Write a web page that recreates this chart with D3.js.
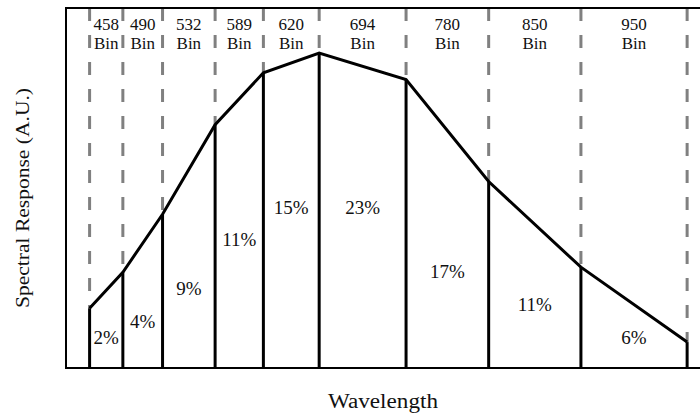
<!DOCTYPE html>
<html>
<head>
<meta charset="utf-8">
<script src="https://cdn.jsdelivr.net/npm/d3@7"></script>
<style>
  body { margin: 0; background: #fff; }
  svg { display: block; }
</style>
</head>
<body>
<svg id="drawing_region"></svg>
<script>
// bin boundaries (nm, estimated) and response at each boundary (A.U., 0-100)
const boundaries = [443, 474, 511, 560, 605, 657, 738, 815, 901, 1000];
const response = [16.6, 26.6, 42.7, 67.6, 82.0, 87.5, 80.1, 51.8, 28.0, 7.2];
const bins = ['458', '490', '532', '589', '620', '694', '780', '850', '950'];
const shares = ['2%', '4%', '9%', '11%', '15%', '23%', '17%', '11%', '6%'];
const shareLevel = [8.6, 13.0, 22.2, 35.7, 44.6, 44.6, 26.9, 17.7, 8.6];

const config = {
    width: 700,
    height: 413,
    margin: { top: 8, right: 0, bottom: 45, left: 66 },
    font: "'Liberation Serif'"
};

const svg = d3.select('#drawing_region')
    .attr('width', config.width)
    .attr('height', config.height);

const x = d3.scaleLinear()
    .domain([421, 1012])
    .range([config.margin.left, config.width - config.margin.right]);

const y = d3.scaleLinear()
    .domain([0, 100])
    .range([config.height - config.margin.bottom, config.margin.top]);

const yTop = y(100), yBottom = y(0);

// dashed gray lines from top to the curve
svg.selectAll('.dash')
    .data(boundaries)
    .enter()
    .append('line')
    .attr('x1', d => x(d))
    .attr('x2', d => x(d))
    .attr('y1', yTop)
    .attr('y2', (d, i) => y(response[i]))
    .attr('stroke', '#808080')
    .attr('stroke-width', 3)
    .attr('stroke-dasharray', '13,14');

// solid black lines from curve to bottom
svg.selectAll('.solid')
    .data(boundaries)
    .enter()
    .append('line')
    .attr('x1', d => x(d))
    .attr('x2', d => x(d))
    .attr('y1', (d, i) => y(response[i]))
    .attr('y2', yBottom)
    .attr('stroke', '#000')
    .attr('stroke-width', 3);

// response curve
const line = d3.line()
    .x((d, i) => x(boundaries[i]))
    .y(d => y(d));

svg.append('path')
    .datum(response)
    .attr('d', line)
    .attr('fill', 'none')
    .attr('stroke', '#000')
    .attr('stroke-width', 3)
    .attr('stroke-linejoin', 'miter');

// frame: left, top, bottom
svg.append('path')
    .attr('d', `M${config.width},${yTop}H${x.range()[0]}V${yBottom}H${config.width}`)
    .attr('fill', 'none')
    .attr('stroke', '#000')
    .attr('stroke-width', 2);

const center = i => x((boundaries[i] + boundaries[i + 1]) / 2);

// bin labels
const binText = svg.selectAll('.bin')
    .data(bins)
    .enter()
    .append('text')
    .style('font-family', config.font)
    .attr('text-anchor', 'middle')
    .attr('font-size', 17)
    .attr('fill', '#111');

binText.append('tspan')
    .attr('x', (d, i) => center(i))
    .attr('y', 30)
    .text(d => d);

binText.append('tspan')
    .attr('x', (d, i) => center(i))
    .attr('y', 49)
    .text('Bin');

// share labels
svg.selectAll('.share')
    .data(shares)
    .enter()
    .append('text')
    .style('font-family', config.font)
    .attr('x', (d, i) => center(i))
    .attr('y', (d, i) => y(shareLevel[i]))
    .attr('dy', '0.35em')
    .attr('text-anchor', 'middle')
    .attr('font-size', 19)
    .attr('fill', '#111')
    .text(d => d);

// axis titles
svg.append('text')
    .style('font-family', config.font)
    .attr('x', (x.range()[0] + x.range()[1]) / 2)
    .attr('y', 408)
    .attr('text-anchor', 'middle')
    .attr('font-size', 20)
    .attr('textLength', 110)
    .attr('lengthAdjust', 'spacingAndGlyphs')
    .attr('fill', '#111')
    .text('Wavelength');

svg.append('text')
    .style('font-family', config.font)
    .attr('transform', `translate(29, ${(yTop + yBottom) / 2 + 10}) rotate(-90)`)
    .attr('text-anchor', 'middle')
    .attr('font-size', 19)
    .attr('textLength', 220)
    .attr('lengthAdjust', 'spacingAndGlyphs')
    .attr('fill', '#111')
    .text('Spectral Response (A.U.)');
</script>
</body>
</html>
